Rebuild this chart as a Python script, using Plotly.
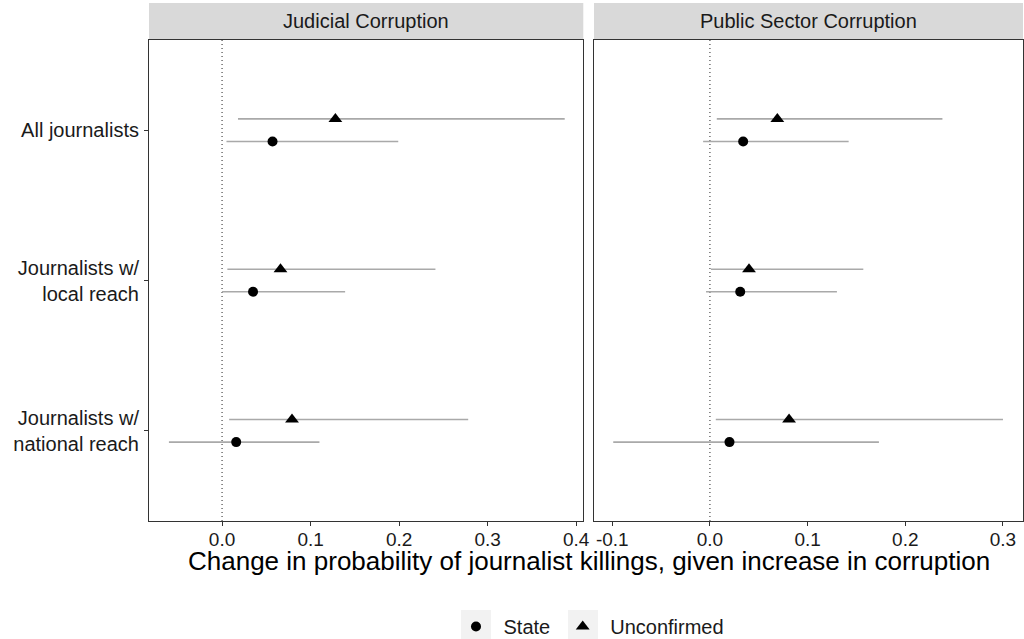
import plotly.graph_objects as go

# ---------------- data ----------------
categories = ["All journalists", "Journalists w/<br>local reach", "Journalists w/<br>national reach"]
panels = ["Judicial Corruption", "Public Sector Corruption"]

# Judicial corruption
jud_state_est = [0.057, 0.035, 0.016]
jud_state_lo = [0.005, 0.000, -0.060]
jud_state_hi = [0.199, 0.139, 0.110]
jud_unconf_est = [0.128, 0.066, 0.079]
jud_unconf_lo = [0.018, 0.006, 0.008]
jud_unconf_hi = [0.387, 0.241, 0.278]

# Public sector corruption
pub_state_est = [0.034, 0.031, 0.020]
pub_state_lo = [-0.007, -0.004, -0.099]
pub_state_hi = [0.142, 0.130, 0.173]
pub_unconf_est = [0.069, 0.040, 0.081]
pub_unconf_lo = [0.007, 0.001, 0.006]
pub_unconf_hi = [0.238, 0.157, 0.300]

x_tickvals = [-0.1, 0.0, 0.1, 0.2, 0.3, 0.4]
x_ticktext = ["-0.1", "0.0", "0.1", "0.2", "0.3", "0.4"]

# ---------------- layout constants ----------------
W, H = 1024, 639
FONT = "Liberation Sans, Arial, Helvetica, sans-serif"
n = len(categories)
ypos = [n - i for i in range(n)]  # top to bottom
dodge = 0.075

def px_x(p):
    return p / W

def px_y(p):
    return 1 - p / H

panel_top, panel_bot = 40, 521
strip_top = 3
dom_left = [px_x(149), px_x(583.3)]
dom_right = [px_x(594), px_x(1023)]
dom_y = [px_y(panel_bot), px_y(panel_top)]

fig = go.Figure()

series = [
    ("State", "circle", 10, -dodge,
     [(jud_state_est, jud_state_lo, jud_state_hi), (pub_state_est, pub_state_lo, pub_state_hi)]),
    ("Unconfirmed", "triangle-up", 12, dodge,
     [(jud_unconf_est, jud_unconf_lo, jud_unconf_hi), (pub_unconf_est, pub_unconf_lo, pub_unconf_hi)]),
]

for name, symbol, size, off, data in series:
    for k, (est, lo, hi) in enumerate(data):
        xa = "x" if k == 0 else "x2"
        ya = "y" if k == 0 else "y2"
        fig.add_trace(go.Scatter(
            x=est,
            y=[p + off for p in ypos],
            mode="markers",
            name=name,
            legendgroup=name,
            showlegend=(k == 0),
            xaxis=xa, yaxis=ya,
            marker=dict(symbol=symbol, size=size, color="black", line=dict(width=0)),
            error_x=dict(type="data", symmetric=False,
                         array=[h - e for h, e in zip(hi, est)],
                         arrayminus=[e - l for e, l in zip(est, lo)],
                         color="#A9A9A9", thickness=1.6, width=0),
            hoverinfo="x+name",
        ))

axis_common = dict(
    showgrid=False, zeroline=False, automargin=False,
    showline=True, mirror=True, linecolor="#333333", linewidth=1.1,
    ticks="outside", ticklen=4, tickcolor="#333333", tickwidth=1.1,
    tickfont=dict(family=FONT, size=20, color="#1a1a1a"),
)
x_tickfont = dict(family=FONT, size=19, color="#1a1a1a")

legend_left = 448.5  # px

fig.update_layout(
    width=W, height=H,
    margin=dict(l=0, r=0, t=0, b=0, autoexpand=False),
    paper_bgcolor="white", plot_bgcolor="white",
    font=dict(family=FONT, color="#1a1a1a"),
    xaxis=dict(domain=dom_left, range=[-0.0825, 0.408], tickvals=x_tickvals, ticktext=x_ticktext,
               ticklabelstandoff=-3, **{**axis_common, "tickfont": x_tickfont}),
    xaxis2=dict(domain=dom_right, range=[-0.1187, 0.3205], tickvals=x_tickvals, ticktext=x_ticktext, anchor="y2",
                ticklabelstandoff=-3, **{**axis_common, "tickfont": x_tickfont}),
    yaxis=dict(domain=dom_y, range=[0.4, n + 0.6], tickvals=ypos, ticktext=categories, anchor="x",
               ticklabelstandoff=1, **axis_common),
    yaxis2=dict(domain=dom_y, range=[0.4, n + 0.6], tickvals=ypos, showticklabels=False, anchor="x2",
                **{k: v for k, v in axis_common.items() if k != "ticks"}, ticks=""),
    showlegend=True,
    legend=dict(orientation="h", x=px_x(legend_left), xanchor="left", y=px_y(607), yanchor="top",
                font=dict(family=FONT, size=20, color="#1a1a1a"), bgcolor="rgba(0,0,0,0)",
                itemwidth=45),
)

shapes = []
annotations = []
for k, (dom, title) in enumerate(zip([dom_left, dom_right], panels)):
    shapes.append(dict(type="rect", xref="paper", yref="paper",
                       x0=dom[0], x1=dom[1], y0=dom_y[1], y1=px_y(strip_top),
                       fillcolor="#D9D9D9", line=dict(width=0), layer="below"))
    annotations.append(dict(text=title, xref="paper", yref="paper",
                            x=(dom[0] + dom[1]) / 2, y=(dom_y[1] + px_y(strip_top)) / 2,
                            xanchor="center", yanchor="middle", showarrow=False,
                            font=dict(family=FONT, size=20, color="#1a1a1a")))
    xa = "x" if k == 0 else "x2"
    ya = "y domain" if k == 0 else "y2 domain"
    shapes.append(dict(type="line", xref=xa, yref=ya, x0=0, x1=0, y0=0, y1=1,
                       line=dict(color="#222222", width=1, dash="1px,3px"), layer="below"))

# legend key backgrounds
for cx in [476, 583]:
    shapes.append(dict(type="rect", xref="paper", yref="paper",
                       x0=px_x(cx - 15), x1=px_x(cx + 15), y0=px_y(639), y1=px_y(610),
                       fillcolor="#F2F2F2", line=dict(width=0), layer="below"))

annotations.append(dict(text="Change in probability of journalist killings, given increase in corruption",
                        xref="paper", yref="paper", x=px_x(589), y=px_y(561),
                        xanchor="center", yanchor="middle", showarrow=False,
                        font=dict(family=FONT, size=26, color="black")))

fig.update_layout(shapes=shapes, annotations=annotations)
fig.write_html("out.html",
               config={"displayModeBar": False},
               post_script="document.body.style.margin='0';document.body.style.padding='0';")
